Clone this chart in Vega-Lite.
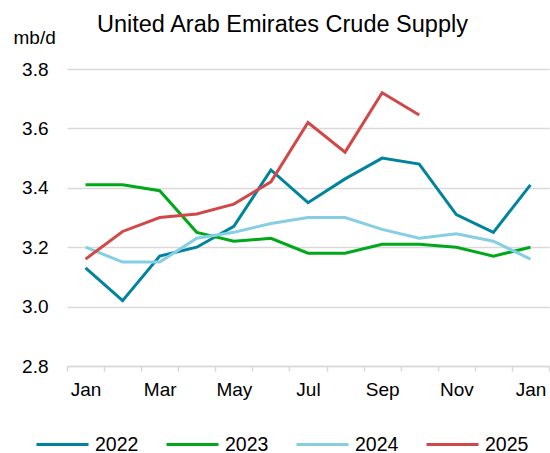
{
  "$schema": "https://vega.github.io/schema/vega-lite/v6.json",
  "width": 482,
  "height": 297,
  "autosize": {"type": "none"},
  "padding": {"left": 67, "top": 69, "right": 1, "bottom": 87},
  "background": "white",
  "config": {
    "font": "Liberation Sans",
    "view": {"stroke": null}
  },
  "title": {
    "text": "United Arab Emirates Crude Supply",
    "fontSize": 23.5,
    "fontWeight": "normal",
    "font": "Liberation Sans",
    "color": "#000000",
    "anchor": "start",
    "frame": "group",
    "dx": 30,
    "dy": 12
  },
  "data": {
    "values": [
      {"m": 1, "year": "2022", "v": 3.13},
      {"m": 2, "year": "2022", "v": 3.02},
      {"m": 3, "year": "2022", "v": 3.17},
      {"m": 4, "year": "2022", "v": 3.2},
      {"m": 5, "year": "2022", "v": 3.27},
      {"m": 6, "year": "2022", "v": 3.46},
      {"m": 7, "year": "2022", "v": 3.35},
      {"m": 8, "year": "2022", "v": 3.43},
      {"m": 9, "year": "2022", "v": 3.5},
      {"m": 10, "year": "2022", "v": 3.48},
      {"m": 11, "year": "2022", "v": 3.31},
      {"m": 12, "year": "2022", "v": 3.25},
      {"m": 13, "year": "2022", "v": 3.41},
      {"m": 1, "year": "2023", "v": 3.41},
      {"m": 2, "year": "2023", "v": 3.41},
      {"m": 3, "year": "2023", "v": 3.39},
      {"m": 4, "year": "2023", "v": 3.25},
      {"m": 5, "year": "2023", "v": 3.22},
      {"m": 6, "year": "2023", "v": 3.23},
      {"m": 7, "year": "2023", "v": 3.18},
      {"m": 8, "year": "2023", "v": 3.18},
      {"m": 9, "year": "2023", "v": 3.21},
      {"m": 10, "year": "2023", "v": 3.21},
      {"m": 11, "year": "2023", "v": 3.2},
      {"m": 12, "year": "2023", "v": 3.17},
      {"m": 13, "year": "2023", "v": 3.2},
      {"m": 1, "year": "2024", "v": 3.2},
      {"m": 2, "year": "2024", "v": 3.15},
      {"m": 3, "year": "2024", "v": 3.15},
      {"m": 4, "year": "2024", "v": 3.23},
      {"m": 5, "year": "2024", "v": 3.25},
      {"m": 6, "year": "2024", "v": 3.28},
      {"m": 7, "year": "2024", "v": 3.3},
      {"m": 8, "year": "2024", "v": 3.3},
      {"m": 9, "year": "2024", "v": 3.26},
      {"m": 10, "year": "2024", "v": 3.23},
      {"m": 11, "year": "2024", "v": 3.245},
      {"m": 12, "year": "2024", "v": 3.22},
      {"m": 13, "year": "2024", "v": 3.16},
      {"m": 1, "year": "2025", "v": 3.16},
      {"m": 2, "year": "2025", "v": 3.253},
      {"m": 3, "year": "2025", "v": 3.3},
      {"m": 4, "year": "2025", "v": 3.312},
      {"m": 5, "year": "2025", "v": 3.345},
      {"m": 6, "year": "2025", "v": 3.42},
      {"m": 7, "year": "2025", "v": 3.62},
      {"m": 8, "year": "2025", "v": 3.52},
      {"m": 9, "year": "2025", "v": 3.72},
      {"m": 10, "year": "2025", "v": 3.645}
    ]
  },
  "mark": {"type": "line", "strokeWidth": 3, "strokeJoin": "miter"},
  "encoding": {
    "x": {
      "field": "m",
      "type": "ordinal",
      "scale": {"type": "band", "paddingInner": 0, "paddingOuter": 0},
      "axis": {
        "title": null,
        "tickBand": "extent",
        "labelAngle": 0,
        "labelExpr": "['Jan','','Mar','','May','','Jul','','Sep','','Nov','','Jan'][datum.value-1]",
        "labelFontSize": 19,
        "labelColor": "#000000",
        "labelPadding": 9,
        "labelOverlap": false,
        "tickSize": 5,
        "tickColor": "#d9d9d9",
        "tickWidth": 1.5,
        "domainColor": "#d9d9d9",
        "domainWidth": 1.5,
        "grid": false
      }
    },
    "y": {
      "field": "v",
      "type": "quantitative",
      "scale": {"domain": [2.8, 3.8], "nice": false, "zero": false},
      "axis": {
        "values": [2.8, 3.0, 3.2, 3.4, 3.6, 3.8],
        "format": ".1f",
        "title": "mb/d",
        "titleAngle": 0,
        "titleAlign": "left",
        "titleBaseline": "alphabetic",
        "titleX": -54,
        "titleY": -26,
        "titleFontSize": 19,
        "titleFontWeight": "normal",
        "titleColor": "#000000",
        "labelFontSize": 19,
        "labelColor": "#000000",
        "labelPadding": 19,
        "ticks": false,
        "domain": false,
        "grid": true,
        "gridColor": "#d9d9d9",
        "gridWidth": 1.5
      }
    },
    "color": {
      "field": "year",
      "type": "nominal",
      "scale": {
        "domain": ["2022", "2023", "2024", "2025"],
        "range": ["#00849E", "#00A81A", "#86CFE2", "#D24848"]
      },
      "legend": {
        "title": null,
        "orient": "none",
        "direction": "horizontal",
        "columns": 4,
        "legendX": -32,
        "legendY": 348,
        "symbolType": "stroke",
        "symbolSize": 2704,
        "symbolStrokeWidth": 3,
        "labelFontSize": 19.5,
        "labelColor": "#000000",
        "labelOffset": 5,
        "columnPadding": 21
      }
    }
  }
}
